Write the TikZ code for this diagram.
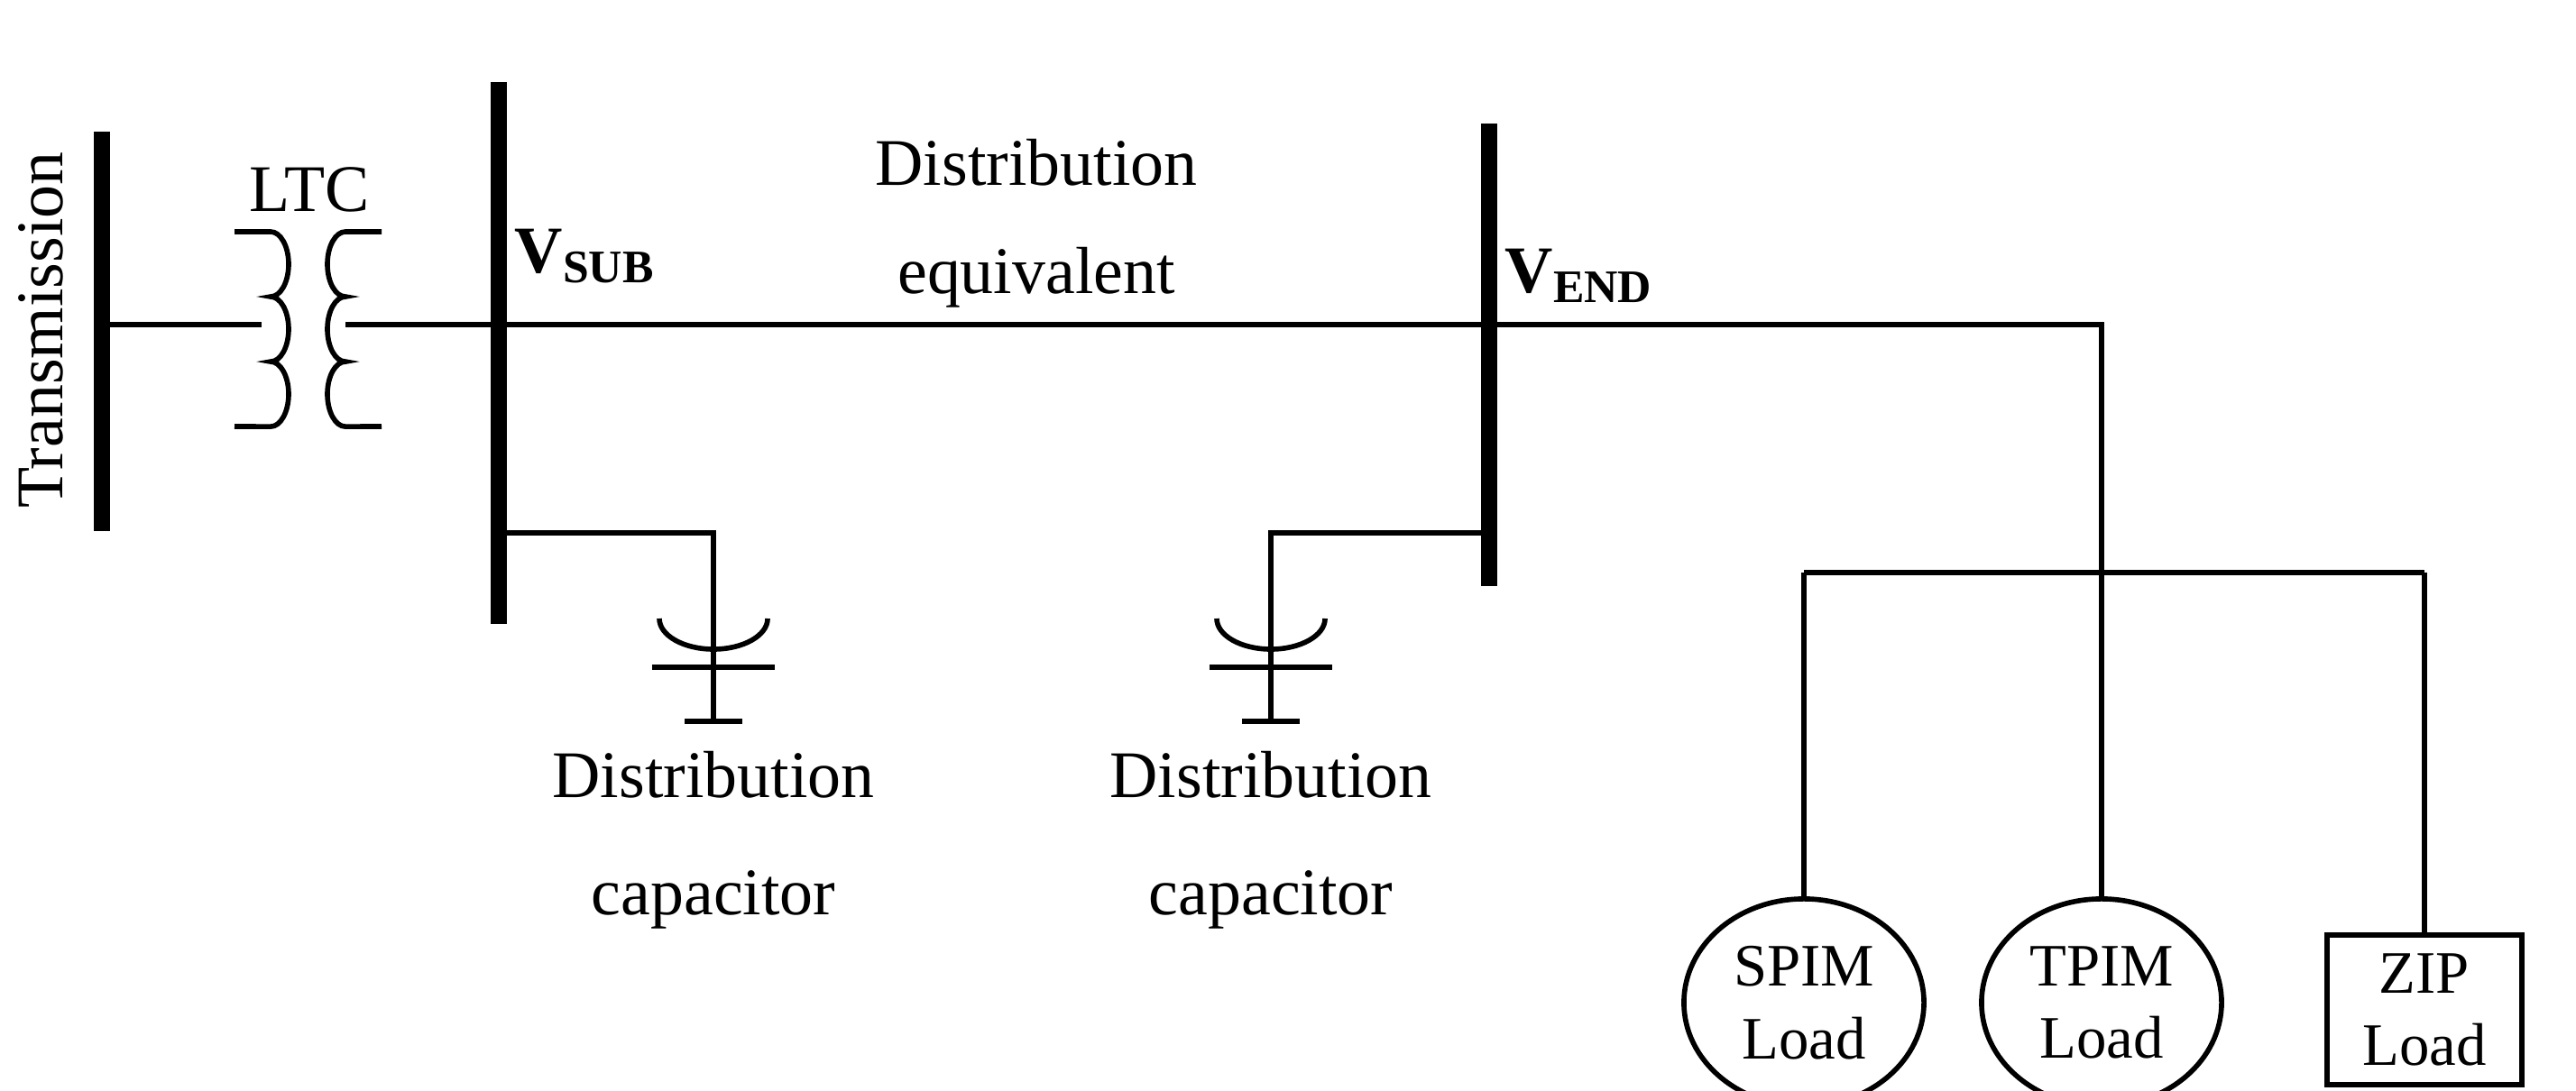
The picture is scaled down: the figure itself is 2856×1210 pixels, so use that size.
\documentclass[tikz,border=0pt]{standalone}
\usepackage{fontspec}
\setmainfont{Liberation Serif}
\usetikzlibrary{shapes.geometric}
\begin{document}
\begin{tikzpicture}[x=0.01cm, y=-0.01cm, line width=1.6pt,
      bus/.style={line width=5pt},
      label/.style={font=\fontsize{21}{34}\selectfont, align=center},
      volt/.style={anchor=west, inner sep=0pt, font=\bfseries\fontsize{21}{25}\selectfont},
      load/.style={draw, ellipse, minimum width=2.66cm, minimum height=2.3cm, font=\fontsize{19}{23}\selectfont, align=center, inner sep=0pt},
      box/.style={draw, rectangle, minimum width=2.16cm, minimum height=1.66cm, font=\fontsize{19}{23}\selectfont, align=center}]
   \useasboundingbox (0,0) rectangle (2856,1210);

   % buses
   \draw[bus] (113,146) coordinate (trt) -- (113,589) coordinate (trb);
   \draw[bus] (553,91) coordinate (subt) -- (553,692) coordinate (subb);
   \draw[bus] (1651,137) coordinate (endt) -- (1651,650) coordinate (endb);
   \node[label, rotate=90] (trans) at (45,366) {Transmission};

   % LTC
   \node[label] (ltc) at (343,210) {LTC};
   \draw (260,257) -- (300,257) arc[start angle=90, end angle=-90, x radius=0.2cm, y radius=0.36cm]
         arc[start angle=90, end angle=-90, x radius=0.2cm, y radius=0.36cm]
         arc[start angle=90, end angle=-90, x radius=0.2cm, y radius=0.36cm] -- (260,473);
   \draw (423,257) -- (383,257) arc[start angle=90, end angle=270, x radius=0.2cm, y radius=0.36cm]
         arc[start angle=90, end angle=270, x radius=0.2cm, y radius=0.36cm]
         arc[start angle=90, end angle=270, x radius=0.2cm, y radius=0.36cm] -- (423,473);
   \draw (113,360) -- (290,360);
   \draw (383,360) -- (553,360) -- (1651,360) -| (2330,635);

   \node[volt] (vsub) at (568,284) {V\textsubscript{SUB}};
   \node[volt] (vend) at (1666,306) {V\textsubscript{END}};
   \node[label] (equiv) at (1149,248) {Distribution\\equivalent};

   % capacitors
   \foreach \cx/\bx/\nm in {791/553/a, 1409/1651/b} {
      \draw (\bx,591) -- (\cx,591) -- (\cx,800);
      \draw (\cx-60,686) arc[start angle=180, end angle=360, x radius=0.6cm, y radius=0.34cm];
      \draw (\cx-68,740) -- (\cx+68,740);
      \draw (\cx-32,800) -- (\cx+32,800);
      \node[label, font=\fontsize{21}{37}\selectfont] (cap\nm) at (\cx,932) {Distribution\\capacitor};
   }

   % loads
   \node[load] (spim) at (2000,1112) {SPIM\\Load};
   \node[load] (tpim) at (2330,1112) {TPIM\\Load};
   \node[box] (zip) at (2688,1120) {ZIP\\Load};
   \draw (2000,635) -- (2688,635);
   \draw (2000,635) -- (spim.north);
   \draw (2330,635) -- (tpim.north);
   \draw (2688,635) -- (zip.north);
\end{tikzpicture}
\end{document}
